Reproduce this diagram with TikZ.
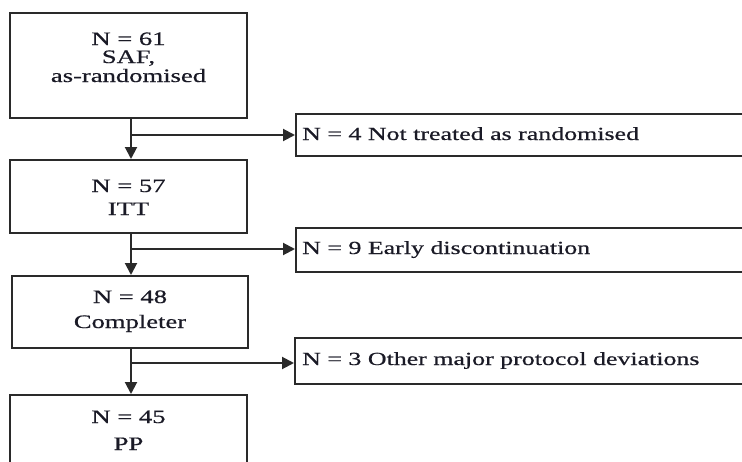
\documentclass[tikz,border=0pt]{standalone}
\usepackage{fontspec}
\setmainfont[FakeStretch=1.4,FakeBold=0.6]{Liberation Serif}
\usetikzlibrary{arrows.meta}
\definecolor{linec}{HTML}{2A2A2A}
\definecolor{textc}{HTML}{1A1A26}
\begin{document}
\begin{tikzpicture}[x=1pt,y=-1pt,
  box/.style={draw=linec, line width=2pt, rectangle, inner sep=0pt, fill=white},
  txt/.style={anchor=base, inner sep=0pt, font=\fontsize{19}{19}\selectfont, text=textc},
  stxt/.style={anchor=base west, inner sep=0pt, font=\fontsize{18.5}{18.5}\selectfont, text=textc},
  conn/.style={draw=linec, line width=2pt, -{Triangle[length=12pt,width=12pt]}},
]
\clip (0,0) rectangle (742,461);
\fill[white] (0,0) rectangle (742,461);
% main boxes
\node[box, minimum width=237, minimum height=105] (b1) at (128.5,65.5) {};
\node[box, minimum width=237, minimum height=73] (b2) at (128.5,196.5) {};
\node[box, minimum width=236, minimum height=72] (b3) at (130,312) {};
\node[box, minimum width=237, minimum height=85] (b4) at (128.5,437.5) {};
% side boxes
\node[box, minimum width=454, minimum height=42] (s1) at (523,135) {};
\node[box, minimum width=454, minimum height=44] (s2) at (523,250) {};
\node[box, minimum width=455, minimum height=46] (s3) at (522.5,361) {};
% main texts
\node[txt] (b1a) at (128.5,45) {N = 61};
\node[txt] (b1b) at (128.5,63) {SAF,};
\node[txt] (b1c) at (128.5,82) {as-randomised};
\node[txt] (b2a) at (128.5,192) {N = 57};
\node[txt] (b2b) at (128.5,215) {ITT};
\node[txt] (b3a) at (130,303) {N = 48};
\node[txt] (b3b) at (130,328) {Completer};
\node[txt] (b4a) at (128.5,423) {N = 45};
\node[txt] (b4b) at (128.5,450) {PP};
% side texts
\node[stxt] (s1t) at (302,140) {N = 4 Not treated as randomised};
\node[stxt] (s2t) at (302,254) {N = 9 Early discontinuation};
\node[stxt] (s3t) at (302,365) {N = 3 Other major protocol deviations};
% junctions
\coordinate (j1) at (131,135);
\coordinate (j2) at (131,249);
\coordinate (j3) at (131,363);
% connectors
\draw[conn] (b1.south -| j1) -- (b2.north -| j1);
\draw[conn] (j1) -- (s1.west |- j1);
\draw[conn] (b2.south -| j2) -- (b3.north -| j2);
\draw[conn] (j2) -- (s2.west |- j2);
\draw[conn] (b3.south -| j3) -- (b4.north -| j3);
\draw[conn] (j3) -- (s3.west |- j3);
\end{tikzpicture}
\end{document}
